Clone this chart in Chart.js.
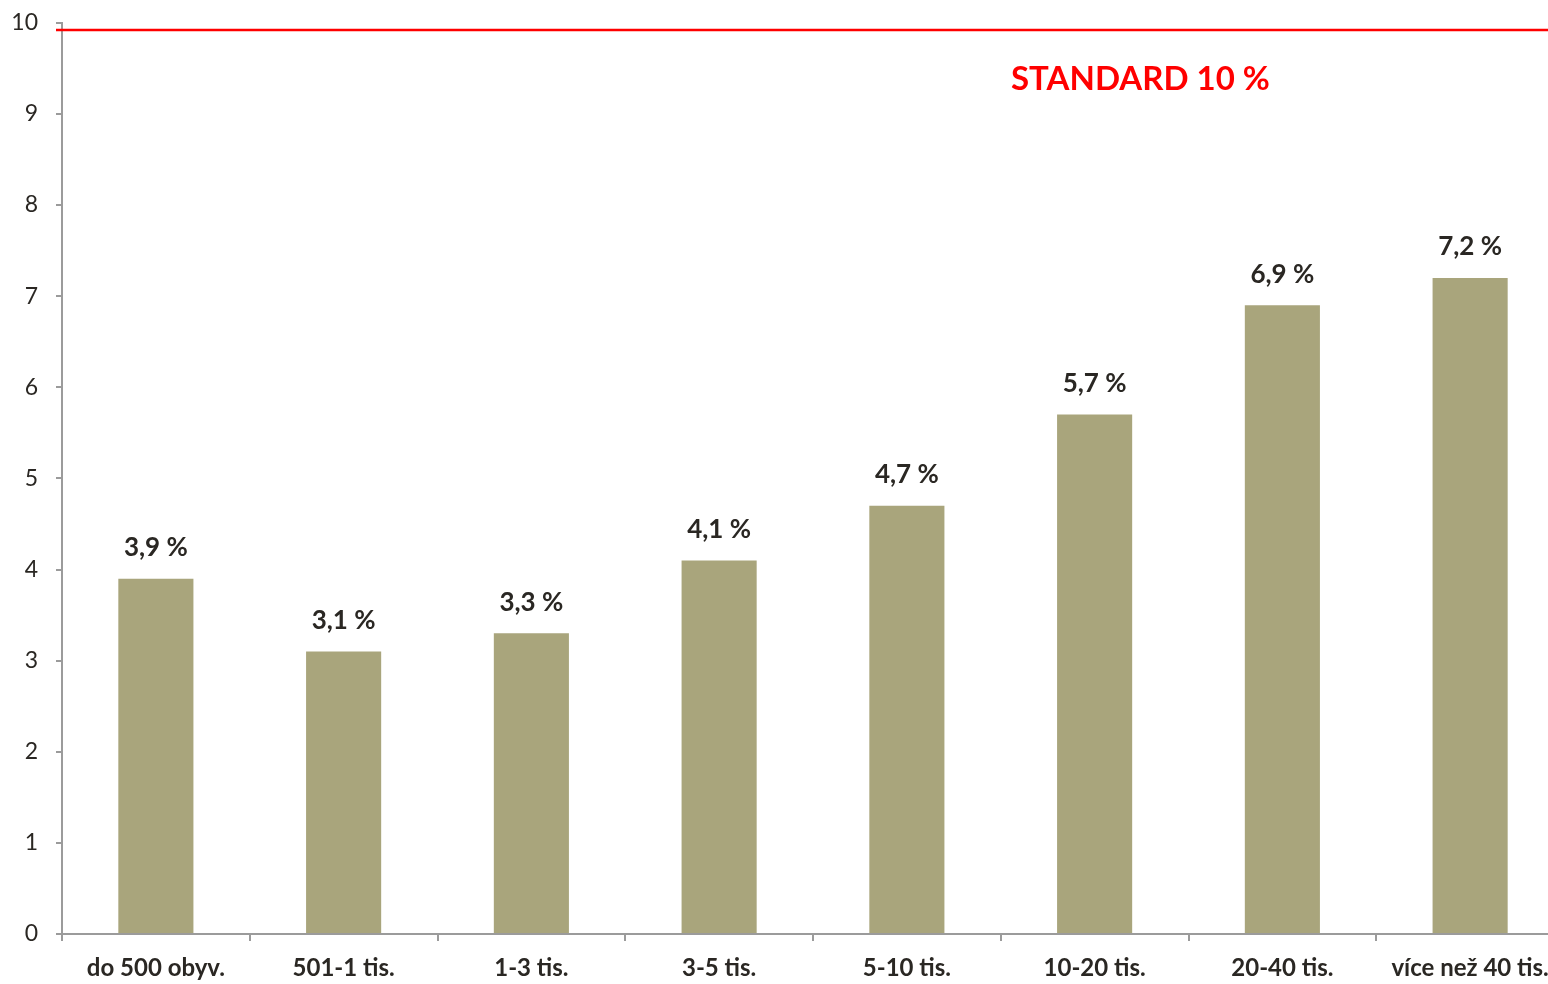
<!DOCTYPE html>
<html>
<head>
<meta charset="utf-8">
<script src="https://cdn.jsdelivr.net/npm/chart.js@4/dist/chart.umd.min.js"></script>
<style>
  html, body { margin:0; padding:0; background:#fff; overflow:hidden; }
  #wrap { position:relative; top:-9px; width:1564px; height:993px; }
</style>
</head>
<body>
<div id="wrap"><canvas id="graf"></canvas></div>
<script>
  // kategorie velikosti obcí a podíly
  const kategorie = ['do 500 obyv.', '501-1 tis.', '1-3 tis.', '3-5 tis.', '5-10 tis.', '10-20 tis.', '20-40 tis.', 'více než 40 tis.'];
  const podil = [3.9, 3.1, 3.3, 4.1, 4.7, 5.7, 6.9, 7.2];
  const standard = 9.92;
  const standardText = 'STANDARD 10 %';
  const yTicks = [0, 1, 2, 3, 4, 5, 6, 7, 8, 9, 10];

  const FONT = 'Lato, "Open Sans", sans-serif';
  const INK = '#2a2723';
  const AXIS = '#9b9b9b';

  // popisky nad sloupci + červená čára standardu
  const popiskyPlugin = {
    id: 'popisky',
    afterDatasetsDraw(chart) {
      const ctx = chart.ctx;
      const ca = chart.chartArea;
      const y = chart.scales.y;
      const meta = chart.getDatasetMeta(0);

      ctx.save();
      ctx.font = 'bold 26px ' + FONT;
      ctx.fillStyle = INK;
      ctx.textAlign = 'center';
      ctx.textBaseline = 'bottom';
      meta.data.forEach((bar, i) => {
        ctx.fillText(podil[i].toFixed(1).replace('.', ',') + ' %', bar.x, bar.y - 18);
      });

      const ys = y.getPixelForValue(standard);
      ctx.strokeStyle = '#ff0000';
      ctx.lineWidth = 2.5;
      ctx.beginPath();
      ctx.moveTo(ca.left - 6, ys);
      ctx.lineTo(chart.width, ys);
      ctx.stroke();

      ctx.font = 'bold 33px ' + FONT;
      ctx.fillStyle = '#ff0000';
      ctx.textBaseline = 'middle';
      ctx.fillText(standardText, ca.left + (ca.right - ca.left) * 0.718, y.getPixelForValue(9.38));
      ctx.restore();
    }
  };

  new Chart(document.getElementById('graf'), {
    type: 'bar',
    data: {
      labels: kategorie,
      datasets: [{
        data: podil,
        backgroundColor: '#a9a57c',
        borderWidth: 0,
        barPercentage: 0.4,
        categoryPercentage: 1.0,
      }],
    },
    options: {
      responsive: true, maintainAspectRatio: false, animation: false,
      layout: { padding: { top: 14, right: 0, left: 0, bottom: 0 } },
      plugins: { legend: { display: false }, tooltip: { enabled: false } },
      scales: {
        x: {
          grid: { offset: true, drawOnChartArea: false, drawTicks: true, tickLength: 7, color: AXIS, lineWidth: 2 },
          border: { color: AXIS, width: 2 },
          ticks: { color: INK, font: { family: FONT, size: 24, weight: 'bold' }, padding: 13, maxRotation: 0, autoSkip: false },
          afterFit: s => { s.height = 50; },
        },
        y: {
          min: 0, max: 10,
          afterBuildTicks: s => { s.ticks = yTicks.map(v => ({ value: v })); },
          grid: { drawOnChartArea: false, drawTicks: true, tickLength: 6, color: AXIS, lineWidth: 2 },
          border: { color: AXIS, width: 2 },
          ticks: { color: INK, font: { family: FONT, size: 23 }, padding: 18 },
          afterFit: s => { s.width = 62; },
        },
      },
    },
    plugins: [popiskyPlugin],
  });
</script>
</body>
</html>
